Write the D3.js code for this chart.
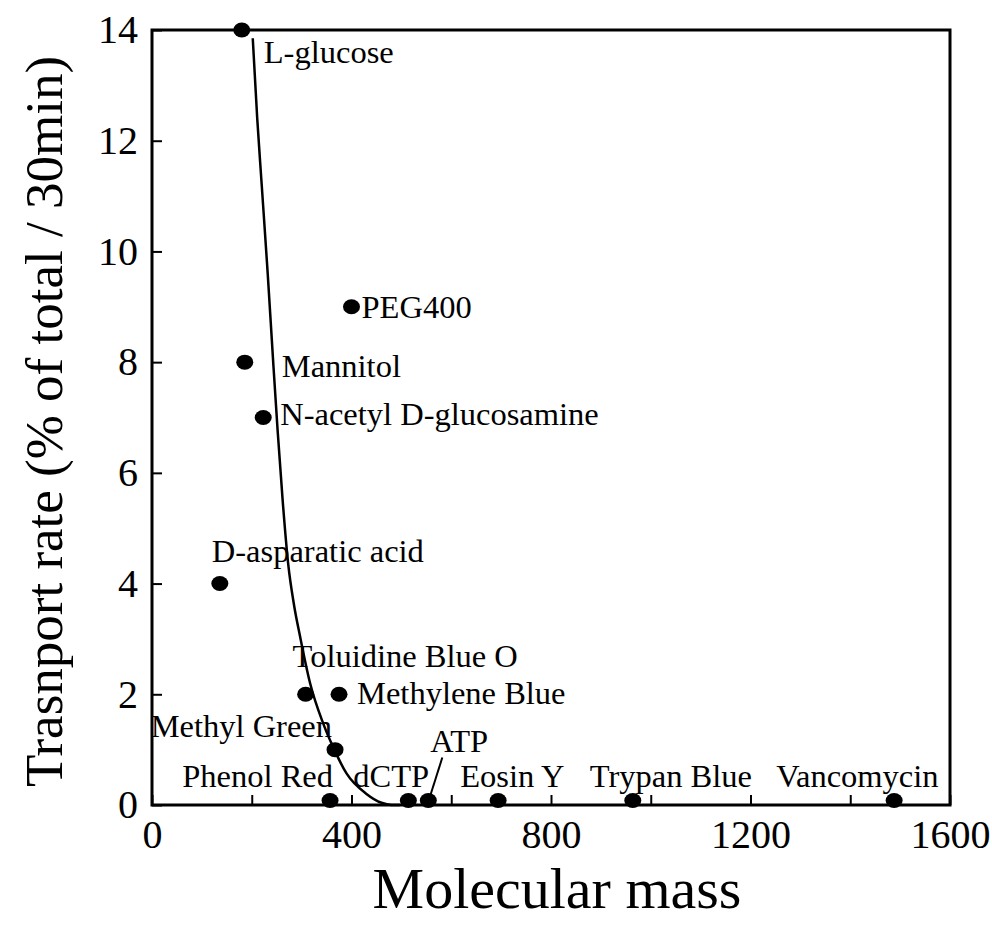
<!DOCTYPE html>
<html>
<head>
<meta charset="utf-8">
<script src="https://cdn.jsdelivr.net/npm/d3@7"></script>
<style>
  body { margin: 0; background: #fff; }
  text { font-family: "Liberation Serif", "Times New Roman", serif; fill: #000; }
</style>
</head>
<body>
<div id="chart"></div>
<script>
// Data
var compounds = ["L-glucose", "PEG400", "Mannitol", "N-acetyl D-glucosamine", "D-asparatic acid",
  "Toluidine Blue O", "Methylene Blue", "Methyl Green", "Phenol Red", "dCTP", "ATP",
  "Eosin Y", "Trypan Blue", "Vancomycin"];
var mass = [180, 400, 186, 223, 136, 308, 375, 367, 357, 514, 554, 694, 964, 1488];
var rate = [14, 9, 8, 7, 4, 2, 2, 1, 0.08, 0.08, 0.08, 0.08, 0.08, 0.08];

// fitted curve, read point by point
var curveMass = [202, 211, 220, 232, 243, 252, 262, 273, 285, 297, 317, 343, 363, 390, 430, 460, 480, 497];
var curveRate = [13.85, 12.4, 11.2, 9.6, 8.0, 6.75, 5.5, 4.36, 3.6, 3.04, 2.2, 1.48, 1.05, 0.57, 0.2, 0.04, 0, 0];

var xTicks = [0, 200, 400, 600, 800, 1000, 1200, 1400, 1600];
var xTickLabels = ["0", "", "400", "", "800", "", "1200", "", "1600"];
var yTicks = [0, 2, 4, 6, 8, 10, 12, 14];
var yTickLabels = ["0", "2", "4", "6", "8", "10", "12", "14"];

// label placement (pixels from the dot)
var labelDx = [22, 10, 37, 17, -8, -13, 18, -3, 3, -55, 2, -38, -43, -118];
var labelDy = [33, 11, 15, 7, -22, -27, 10, -13, -14, -14, -49, -14, -14, -14];
var labelAnchor = ["start", "start", "start", "start", "start", "start", "start", "end", "end",
  "start", "start", "start", "start", "start"];

var svgWidth = 992;
var svgHeight = 938;

var margin = { top: 30, right: 42, bottom: 133, left: 152 };
var width = svgWidth - margin.left - margin.right;
var height = svgHeight - margin.top - margin.bottom;

var svg = d3.select("#chart")
  .append("svg")
  .attr("width", svgWidth)
  .attr("height", svgHeight);

var chartGroup = svg.append("g")
  .attr("transform", `translate(${margin.left}, ${margin.top})`);

var xScale = d3.scaleLinear().domain([0, 1600]).range([0, width]);
var yScale = d3.scaleLinear().domain([0, 14]).range([height, 0]);

// axes with inward ticks
var bottomAxis = d3.axisBottom(xScale)
  .tickValues(xTicks)
  .tickFormat(function(d, i) { return xTickLabels[i]; })
  .tickSizeInner(-10).tickSizeOuter(0).tickPadding(15);
var leftAxis = d3.axisLeft(yScale)
  .tickValues(yTicks)
  .tickFormat(function(d, i) { return yTickLabels[i]; })
  .tickSizeInner(-10).tickSizeOuter(0).tickPadding(14);

var xAxisG = chartGroup.append("g")
  .attr("transform", `translate(0, ${height})`)
  .call(bottomAxis);
var yAxisG = chartGroup.append("g").call(leftAxis);

[xAxisG, yAxisG].forEach(function(g) {
  g.select(".domain").remove();
  g.selectAll("line").attr("stroke", "#000").attr("stroke-width", 2);
  g.selectAll("text").attr("font-size", 40);
});

// frame
chartGroup.append("rect")
  .attr("x", 0).attr("y", 0)
  .attr("width", width).attr("height", height)
  .attr("fill", "none").attr("stroke", "#000").attr("stroke-width", 3);

// curve
var line = d3.line()
  .x(function(d, i) { return xScale(curveMass[i]); })
  .y(function(d, i) { return yScale(curveRate[i]); })
  .curve(d3.curveMonotoneX);

chartGroup.append("path")
  .attr("d", line(curveMass))
  .attr("fill", "none")
  .attr("stroke", "#000")
  .attr("stroke-width", 2.5);

// points
chartGroup.selectAll(".dot")
  .data(compounds)
  .enter()
  .append("ellipse")
  .attr("class", "dot")
  .attr("cx", function(d, i) { return xScale(mass[i]); })
  .attr("cy", function(d, i) { return yScale(rate[i]); })
  .attr("rx", 8.5)
  .attr("ry", 7.5)
  .attr("fill", "#000");

// labels
chartGroup.selectAll(".lbl")
  .data(compounds)
  .enter()
  .append("text")
  .attr("class", "lbl")
  .attr("x", function(d, i) { return xScale(mass[i]) + labelDx[i]; })
  .attr("y", function(d, i) { return yScale(rate[i]) + labelDy[i]; })
  .attr("text-anchor", function(d, i) { return labelAnchor[i]; })
  .attr("font-size", 32.5)
  .text(function(d) { return d; });

// ATP leader line
var atp = compounds.indexOf("ATP");
chartGroup.append("line")
  .attr("x1", xScale(mass[atp]) + 2)
  .attr("y1", yScale(rate[atp]) - 5)
  .attr("x2", xScale(mass[atp]) + 14)
  .attr("y2", yScale(rate[atp]) - 43)
  .attr("stroke", "#000")
  .attr("stroke-width", 2);

// axis titles
svg.append("text")
  .attr("transform", `translate(${margin.left + width / 2 + 6}, 908)`)
  .attr("text-anchor", "middle")
  .attr("font-size", 58)
  .text("Molecular mass");

svg.append("text")
  .attr("transform", `translate(62, ${margin.top + height / 2 + 4}) rotate(-90)`)
  .attr("text-anchor", "middle")
  .attr("font-size", 53)
  .text("Trasnport rate (% of total / 30min)");
</script>
</body>
</html>
